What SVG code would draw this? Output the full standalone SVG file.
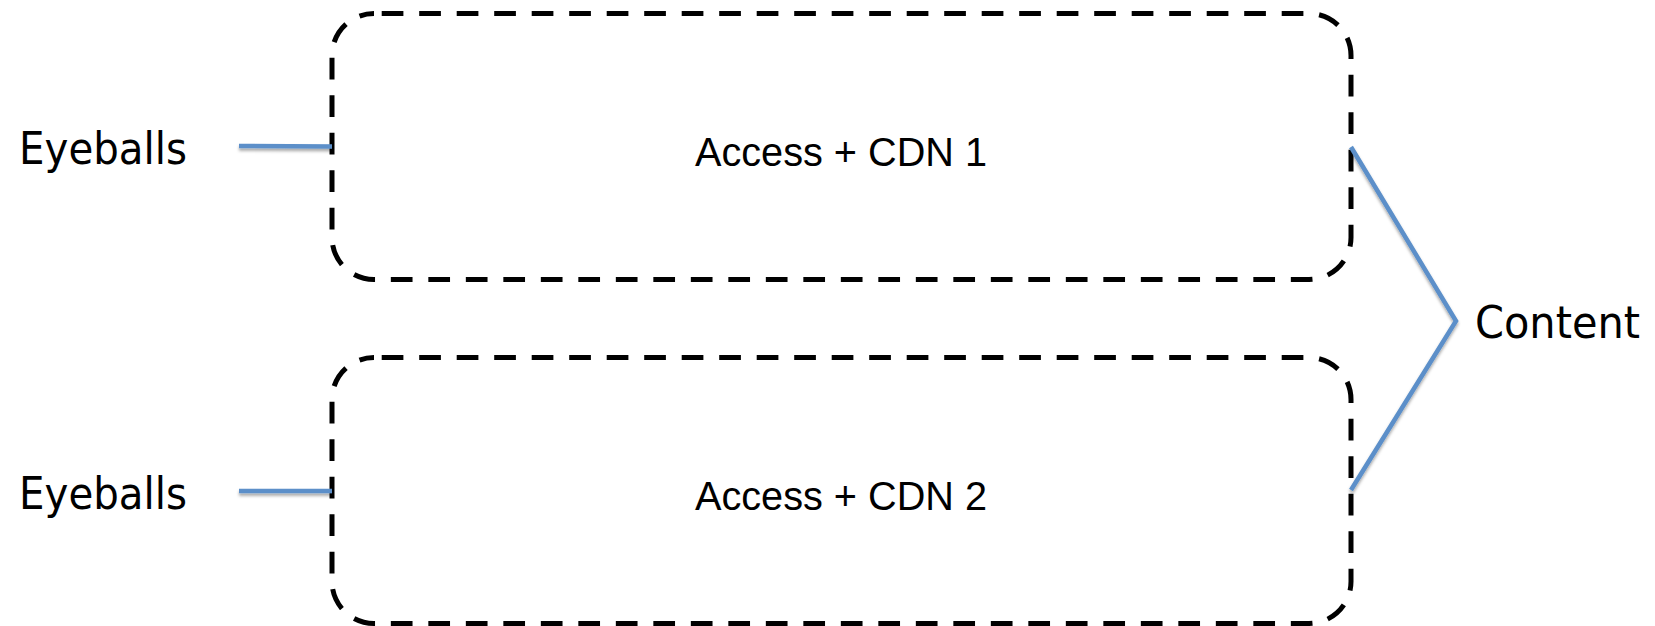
<svg xmlns="http://www.w3.org/2000/svg" width="1655" height="626" viewBox="0 0 1655 626">
  <style>
    .box { fill: none; stroke: #000; stroke-width: 5; stroke-dasharray: 21.7 15.8; stroke-dashoffset: -7.7; }
    .lbl { font-family: "DejaVu Sans", Verdana, sans-serif; font-size: 45px; fill: #000; }
    .inner { font-family: "Liberation Sans", Arial, sans-serif; font-size: 40px; fill: #000; text-anchor: middle; }
    .conn { fill: none; stroke: #5b8fc9; stroke-width: 4.5; stroke-linecap: butt; stroke-linejoin: miter; }
  </style>
  <defs>
    <filter id="shadow" x="-20%" y="-50%" width="140%" height="200%">
      <feDropShadow dx="0" dy="2.5" stdDeviation="1.5" flood-color="#000" flood-opacity="0.35"/>
    </filter>
  </defs>
  <rect width="1655" height="626" fill="#fff"/>

  <g id="cdn1">
    <rect class="box" x="332" y="13.5" width="1019" height="266" rx="42" ry="42"/>
    <text class="inner" x="841" y="165.5" textLength="292" lengthAdjust="spacingAndGlyphs">Access + CDN 1</text>
  </g>
  <g id="cdn2">
    <rect class="box" x="332" y="357.5" width="1019" height="266" rx="42" ry="42"/>
    <text class="inner" x="841" y="510" textLength="292" lengthAdjust="spacingAndGlyphs">Access + CDN 2</text>
  </g>
  <g id="eyeballs1">
    <text class="lbl" x="19" y="164" textLength="168" lengthAdjust="spacingAndGlyphs">Eyeballs</text>
  </g>
  <g id="eyeballs2">
    <text class="lbl" x="19" y="509" textLength="168" lengthAdjust="spacingAndGlyphs">Eyeballs</text>
  </g>
  <g id="content">
    <text class="lbl" x="1475" y="338" textLength="165" lengthAdjust="spacingAndGlyphs">Content</text>
  </g>

  <g id="connectors" filter="url(#shadow)">
    <line class="conn" x1="239" y1="146" x2="332" y2="146.5"/>
    <line class="conn" x1="239" y1="491" x2="332" y2="491"/>
    <polyline class="conn" points="1351,147 1456,321 1351,490"/>
  </g>
</svg>
